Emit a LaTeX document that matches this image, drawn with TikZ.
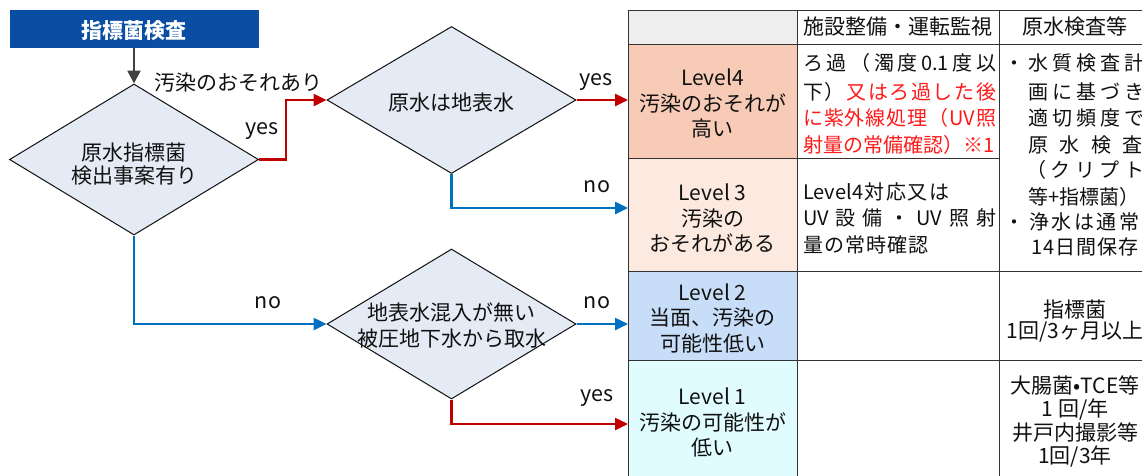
\documentclass[tikz,border=0pt]{standalone}
\usepackage{fontspec}
\setmainfont{Noto Sans CJK JP}
\usetikzlibrary{arrows.meta,shapes.geometric}
\definecolor{startblue}{HTML}{0A4EA4}
\definecolor{dfill}{HTML}{E4EBF5}
\definecolor{ared}{HTML}{C00000}
\definecolor{ablue}{HTML}{0070C0}
\definecolor{agray}{HTML}{404040}
\definecolor{tred}{HTML}{FF1A1A}
\definecolor{lvfour}{HTML}{F8CBB6}
\definecolor{lvthree}{HTML}{FCE9DF}
\definecolor{lvtwo}{HTML}{C8DEF8}
\definecolor{lvone}{HTML}{E0FCFF}
\definecolor{hdr}{HTML}{EEEEEE}
\definecolor{tline}{HTML}{333333}
\definecolor{txt}{HTML}{111111}
\makeatletter
\newcommand\sptext[2]{\def\sp@sep{}\@tfor\sp@c:=#2\do{\sp@sep\sp@c\def\sp@sep{#1}}}
\makeatother
\tikzset{
  big/.style={font=\fontsize{21}{25}\selectfont},
  small/.style={font=\fontsize{20}{24}\selectfont},
  startbox/.style={rectangle,fill=startblue,text=white,inner sep=0pt,font=\fontsize{21}{25}\selectfont\bfseries},
  dia/.style={diamond,draw=txt,line width=1pt,fill=dfill,inner sep=0pt},
  dtext/.style={big,align=center,text=txt,inner sep=0pt},
  lbl/.style={text=txt,inner sep=0pt,font=\fontsize{21.5}{25}\selectfont},
  cell/.style={rectangle,draw=tline,line width=1pt,inner sep=0pt,anchor=north west},
  lvtext/.style={align=center,text=txt,inner sep=0pt,font=\fontsize{21}{25.5}\selectfont},
  ctext/.style={small,text=txt,inner sep=0pt,anchor=base west},
  mtext/.style={text=txt,inner sep=0pt,font=\fontsize{21}{24}\selectfont},
  rarrow/.style={draw=ared,line width=2.5pt,-{Triangle[length=13pt,width=12pt]}},
  barrow/.style={draw=ablue,line width=2.5pt,-{Triangle[length=13pt,width=12pt]}},
  garrow/.style={draw=agray,line width=2.5pt,-{Triangle[length=13pt,width=13pt]}}
}
\begin{document}
\begin{tikzpicture}[x=1pt,y=-1pt]
\useasboundingbox (0,0) rectangle (1142,475);
\clip (0,0) rectangle (1142,475);
\fill[white] (0,0) rectangle (1142,475);

% ---------- table ----------
\node[cell,fill=hdr,minimum width=169pt,minimum height=34pt] (h0) at (628,10) {};
\node[cell,fill=white,minimum width=202pt,minimum height=34pt] (h1) at (797,10) {};
\node[cell,fill=white,minimum width=170pt,minimum height=34pt] (h2) at (999,10) {};
\node[cell,fill=lvfour,minimum width=169pt,minimum height=114pt] (lvf) at (628,44) {};
\node[cell,fill=lvthree,minimum width=169pt,minimum height=113pt] (lvt) at (628,158) {};
\node[cell,fill=lvtwo,minimum width=169pt,minimum height=89pt] (lvw) at (628,271) {};
\node[cell,fill=lvone,minimum width=169pt,minimum height=140pt] (lvo) at (628,360) {};
\node[cell,fill=white,minimum width=202pt,minimum height=114pt] (cf) at (797,44) {};
\node[cell,fill=white,minimum width=202pt,minimum height=113pt] (ct) at (797,158) {};
\node[cell,fill=white,minimum width=202pt,minimum height=89pt] (cw) at (797,271) {};
\node[cell,fill=white,minimum width=202pt,minimum height=140pt] (co) at (797,360) {};
\node[cell,fill=white,minimum width=170pt,minimum height=227pt] (rft) at (999,44) {};
\node[cell,fill=white,minimum width=170pt,minimum height=89pt] (rw) at (999,271) {};
\node[cell,fill=white,minimum width=170pt,minimum height=140pt] (ro) at (999,360) {};

\node[big,text=txt,inner sep=0pt] (h1t) at (898,27) {施設整備・運転監視};
\node[big,text=txt,inner sep=0pt] (h2t) at (1075,27) {原水検査等};

\node[lvtext] (lvft) at (712.5,103.5) {Level4\\汚染のおそれが\\高い};
\node[lvtext] (lvtt) at (712.5,218.5) {Level 3\\汚染の\\おそれがある};
\node[lvtext] (lvwt) at (712.5,318) {Level 2\\当面、汚染の\\可能性低い};
\node[lvtext] (lvot) at (712.5,422.5) {Level 1\\汚染の可能性が\\低い};

% column 2
\node[ctext] (c1) at (803,70) {\hbox to 193pt{\sptext{\hfill}{ろ過（濁度{0.1}度以}}};
\node[ctext] (c2) at (803,99) {\hbox to 193pt{\sptext{\hfill}{下）}\hfill\color{tred}\sptext{\hfill}{又はろ過した後}}};
\node[ctext,text=tred] (c3) at (803,125) {\hbox to 193pt{\sptext{\hfill}{に紫外線処理（{UV}照}}};
\node[ctext,text=tred] (c4) at (803,152) {\hbox to 183pt{\sptext{\hfill}{射量の常備確認）※{1}}}};
\node[ctext] (c5) at (803,199) {\sptext{\kern1.5pt}{{Level4}対応又は}};
\node[ctext] (c6) at (803,225) {\hbox to 193pt{\sptext{\hfill}{{UV}設備・{UV}照射}}};
\node[ctext] (c7) at (803,252) {\sptext{\kern1pt}{量の常時確認}};

% column 3
\node[ctext] (b1) at (1004,70) {・};
\node[ctext] (r1) at (1028,70) {\sptext{\kern4pt}{水質検査計}};
\node[ctext] (r2) at (1028,99) {\sptext{\kern4pt}{画に基づき}};
\node[ctext] (r3) at (1028,125) {\sptext{\kern4pt}{適切頻度で}};
\node[ctext] (r4) at (1028,152) {\sptext{\kern11.5pt}{原水検査}};
\node[ctext] (r5) at (1026,177) {\sptext{\kern4.5pt}{（クリプト}};
\node[ctext] (r6) at (1028,204) {等+指標菌）};
\node[ctext] (b2) at (1004,229) {・};
\node[ctext] (r7) at (1029,229) {\sptext{\kern2.5pt}{浄水は通常}};
\node[ctext] (r8) at (1031,254) {\sptext{\kern1pt}{14日間保存}};

\node[mtext] (w1) at (1075,310) {指標菌};
\node[mtext] (w2) at (1075,332) {1回/3ヶ月以上};
\node[mtext] (o1) at (1075,385) {大腸菌•TCE等};
\node[mtext] (o2) at (1075,410) {1 回/年};
\node[mtext] (o3) at (1075,433) {井戸内撮影等};
\node[mtext] (o4) at (1075,457) {1回/3年};

% ---------- flowchart ----------
\node[startbox,minimum width=249pt,minimum height=38pt] (start) at (134,29) {};
\node[startbox] (startt) at (134,31) {指標菌検査};
\node[dia,minimum width=249pt,minimum height=151pt] (d1) at (134,159.5) {};
\node[dia,minimum width=249pt,minimum height=147pt] (d2) at (451.5,100) {};
\node[dia,minimum width=249pt,minimum height=150pt] (d3) at (451.5,324) {};
\node[dtext,font=\fontsize{21}{23.5}\selectfont] (d1t) at (134,164) {原水指標菌\\検出事案有り};
\node[dtext] (d2t) at (451.5,103) {原水は地表水};
\node[dtext,font=\fontsize{21}{26}\selectfont] (d3t) at (451.5,325) {地表水混入が無い\\被圧地下水から取水};

\coordinate (ntwo) at (628,208);
\coordinate (nthree) at (628,424);

\draw[garrow] (start.south) -- (d1.north);
\draw[rarrow] (d1.east) -- ++(27,0) |- (d2.west);
\draw[rarrow] (d2.east) -- (d2.east -| lvf.west);
\draw[barrow] (d2.south) |- (ntwo);
\draw[barrow] (d1.south) |- (d3.west);
\draw[barrow] (d3.east) -- (d3.east -| lvw.west);
\draw[rarrow] (d3.south) |- (nthree);

\node[big,text=txt,inner sep=0pt] (lab1) at (238,83) {汚染のおそれあり};
\node[lbl] (lab2) at (262,131) {yes};
\node[lbl] (lab3) at (596,82) {yes};
\node[lbl] (lab4) at (597,187) {no};
\node[lbl] (lab5) at (268,303) {no};
\node[lbl] (lab6) at (597,303) {no};
\node[lbl] (lab7) at (597,398) {yes};
\end{tikzpicture}
\end{document}
